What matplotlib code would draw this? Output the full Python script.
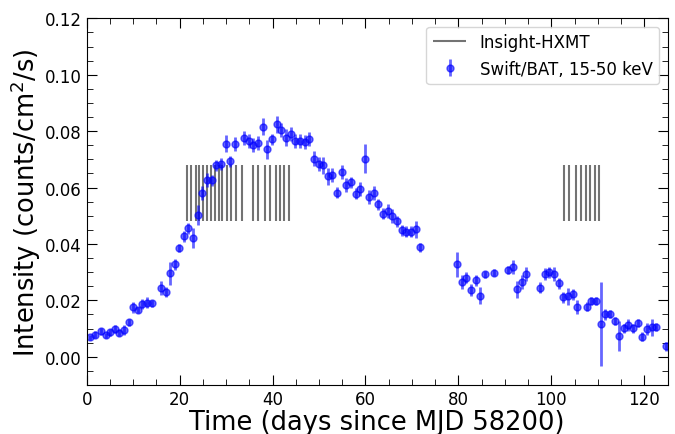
import matplotlib
matplotlib.use('Agg')
from matplotlib import pyplot as plt
from matplotlib.ticker import MultipleLocator
import numpy as np

# Swift/BAT daily light curve, 15-50 keV
days = [0.7, 1.8, 3.0, 4.1, 5.0, 6.1, 7.0, 8.0, 9.1, 10.0, 11.0, 12.0, 13.0, 14.0,
        15.9, 17.0, 17.9, 19.0, 19.9, 20.9, 21.9, 22.9, 23.9, 24.9, 25.9, 27.0,
        27.9, 28.9, 29.9, 30.9, 31.9, 33.9, 34.9, 35.9, 36.9, 37.9, 38.9, 39.9,
        40.9, 41.9, 42.9, 43.9, 44.9, 45.9, 46.9, 47.9, 48.9, 49.9, 50.9, 51.9,
        52.8, 53.8, 54.9, 55.8, 56.8, 57.9, 58.8, 59.8, 60.8, 61.8, 62.8, 63.8,
        64.8, 65.8, 66.8, 67.8, 68.8, 69.8, 70.8, 71.8,
        79.8, 80.7, 81.7, 82.7, 83.7, 84.7, 85.7, 87.7, 90.6, 91.7, 92.6, 93.6,
        94.6, 97.6, 98.6, 99.6, 100.6, 101.6, 102.6, 103.6, 104.6, 105.6, 107.6,
        108.6, 109.6, 110.6, 111.6, 112.6, 113.6, 114.6, 115.6, 116.6, 117.6,
        118.6, 119.6, 120.6, 121.6, 122.6, 124.6]
rate = [0.0069, 0.0078, 0.0090, 0.0076, 0.0087, 0.0098, 0.0086, 0.0095, 0.0122,
        0.0175, 0.0166, 0.0187, 0.0192, 0.0190, 0.0245, 0.0231, 0.0296, 0.0328,
        0.0386, 0.0427, 0.0456, 0.0422, 0.0503, 0.0580, 0.0626, 0.0626, 0.0679,
        0.0684, 0.0756, 0.0693, 0.0753, 0.0776, 0.0764, 0.0751, 0.0758, 0.0816,
        0.0735, 0.0771, 0.0825, 0.0805, 0.0777, 0.0789, 0.0764, 0.0766, 0.0760,
        0.0773, 0.0703, 0.0684, 0.0679, 0.0640, 0.0644, 0.0582, 0.0656, 0.0608,
        0.0618, 0.0578, 0.0594, 0.0703, 0.0566, 0.0581, 0.0540, 0.0508, 0.0516,
        0.0500, 0.0480, 0.0448, 0.0443, 0.0443, 0.0452, 0.0388,
        0.0328, 0.0264, 0.0281, 0.0237, 0.0271, 0.0216, 0.0292, 0.0298, 0.0308,
        0.0317, 0.0239, 0.0264, 0.0292, 0.0245, 0.0294, 0.0300, 0.0292, 0.0261,
        0.0211, 0.0214, 0.0222, 0.0178, 0.0178, 0.0198, 0.0198, 0.0115, 0.0151,
        0.0151, 0.0127, 0.0074, 0.0101, 0.0113, 0.0101, 0.0119, 0.0072, 0.0099,
        0.0104, 0.0105, 0.0037]
err = [0.0010, 0.0012, 0.0012, 0.0010, 0.0012, 0.0015, 0.0012, 0.0018, 0.0012,
       0.0020, 0.0012, 0.0018, 0.0020, 0.0012, 0.0025, 0.0018, 0.0040, 0.0020,
       0.0015, 0.0020, 0.0020, 0.0035, 0.0035, 0.0025, 0.0025, 0.0020, 0.0020,
       0.0020, 0.0030, 0.0020, 0.0025, 0.0025, 0.0025, 0.0025, 0.0025, 0.0030,
       0.0035, 0.0020, 0.0030, 0.0025, 0.0030, 0.0025, 0.0025, 0.0025, 0.0025,
       0.0025, 0.0025, 0.0025, 0.0030, 0.0030, 0.0025, 0.0020, 0.0025, 0.0025,
       0.0020, 0.0020, 0.0025, 0.0050, 0.0025, 0.0025, 0.0020, 0.0020, 0.0025,
       0.0025, 0.0020, 0.0020, 0.0020, 0.0020, 0.0030, 0.0015,
       0.0045, 0.0025, 0.0020, 0.0020, 0.0020, 0.0030, 0.0012, 0.0012, 0.0015,
       0.0025, 0.0030, 0.0025, 0.0025, 0.0020, 0.0020, 0.0020, 0.0025, 0.0020,
       0.0020, 0.0030, 0.0020, 0.0025, 0.0015, 0.0015, 0.0015, 0.0149, 0.0020,
       0.0015, 0.0015, 0.0052, 0.0015, 0.0020, 0.0015, 0.0015, 0.0015, 0.0020,
       0.0030, 0.0015, 0.0015]

# Insight-HXMT observation epochs
hxmt_days = [21.6, 22.4, 23.5, 24.2, 25.1, 25.8, 26.7, 27.6, 28.4, 29.2, 30.1,
             31.1, 32.2, 33.4, 35.8, 36.8, 38.3, 39.4, 40.7, 41.6, 42.5, 43.6,
             102.8, 103.8, 105.2, 106.3, 107.4, 108.3, 109.3, 110.3]

fig = plt.figure(figsize=(6.75, 4.35), dpi=100)
ax = fig.add_axes([0.1284, 0.1126, 0.8605, 0.843])

ax.vlines(hxmt_days, 0.048, 0.068, color='k', alpha=0.55, lw=1.5, label='Insight-HXMT')
ax.errorbar(days, rate, yerr=err, fmt='o', color='blue', alpha=0.6, ms=5,
            elinewidth=2, capsize=0, label='Swift/BAT, 15-50 keV')

ax.set_xlim(0, 125)
ax.set_ylim(-0.01, 0.12)
ax.xaxis.set_major_locator(MultipleLocator(20))
ax.xaxis.set_minor_locator(MultipleLocator(5))
ax.yaxis.set_major_locator(MultipleLocator(0.02))
ax.yaxis.set_minor_locator(MultipleLocator(0.005))
ax.yaxis.set_major_formatter(plt.FormatStrFormatter('%.2f'))
ax.tick_params(which='both', direction='in', top=True, right=True, labelsize=12)
ax.tick_params(which='major', length=7)
ax.tick_params(which='minor', length=4)

ax.set_xlabel('Time (days since MJD 58200)', fontsize=18.5, labelpad=1)
ax.set_ylabel('Intensity (counts/cm$^2$/s)', fontsize=18.5, labelpad=1)
ax.legend(loc='upper right', fontsize=12)

fig.savefig('out.png', dpi=100)
